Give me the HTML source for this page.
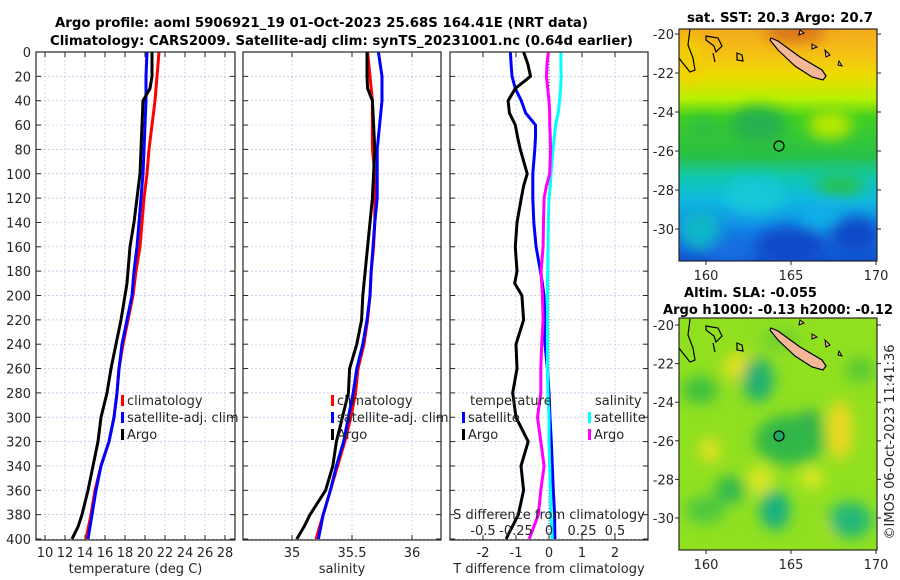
<!DOCTYPE html>
<html><head><meta charset="utf-8"><style>
html,body{margin:0;padding:0;background:#fff}
svg{display:block;font-family:"DejaVu Sans","Liberation Sans",sans-serif}
</style></head><body>
<svg id="fig" width="900" height="580" viewBox="0 0 900 580" xmlns="http://www.w3.org/2000/svg">
<defs>
<linearGradient id="sstg" x1="0" y1="0" x2="0" y2="1">
<stop offset="0" stop-color="#f2a81c"/><stop offset="0.12" stop-color="#f5c414"/><stop offset="0.2" stop-color="#ecdc00"/>
<stop offset="0.3" stop-color="#b8f000"/><stop offset="0.38" stop-color="#40d020"/><stop offset="0.55" stop-color="#28c048"/>
<stop offset="0.64" stop-color="#10c8b0"/><stop offset="0.74" stop-color="#10b8e0"/><stop offset="0.86" stop-color="#1488e8"/><stop offset="1" stop-color="#1250d0"/>
</linearGradient>
<filter id="bl" x="-50%" y="-50%" width="200%" height="200%"><feGaussianBlur stdDeviation="7"/></filter>
<clipPath id="c1"><rect x="679" y="29" width="198" height="232"/></clipPath>
<clipPath id="c2"><rect x="679" y="318" width="198" height="232"/></clipPath>
</defs>
<g id="titles" font-weight="bold" font-size="13" fill="#000">
<text x="55" y="27" textLength="533" lengthAdjust="spacingAndGlyphs">Argo profile: aoml 5906921_19 01-Oct-2023 25.68S 164.41E (NRT data)</text>
<text x="50" y="45" textLength="583" lengthAdjust="spacingAndGlyphs">Climatology: CARS2009. Satellite-adj clim: synTS_20231001.nc (0.64d earlier)</text>
<text x="687" y="22" textLength="186" lengthAdjust="spacingAndGlyphs">sat. SST: 20.3 Argo: 20.7</text>
<text x="684" y="297" textLength="133" lengthAdjust="spacingAndGlyphs">Altim. SLA: -0.055</text>
<text x="663" y="314" textLength="230" lengthAdjust="spacingAndGlyphs">Argo h1000: -0.13 h2000: -0.12</text>
</g>
<text transform="translate(894,442) rotate(-90)" font-size="13" fill="#262626" text-anchor="middle">©IMOS 06-Oct-2023 11:41:36</text>
<g id="panels"></g>
<g id="maps"></g>
</svg>
<script>
// ---------- data ----------
const depths=[0,20,40,60,80,100,120,140,160,180,200,220,240,260,280,300,320,340,360,380,400];
const tempClim=[21.4,21.2,21.0,20.7,20.4,20.2,19.9,19.7,19.5,19.1,18.8,18.3,17.8,17.4,17.2,16.9,16.4,15.6,15.0,14.6,14.1];
const tempSat=[20.2,20.1,20.1,20.0,19.9,19.8,19.6,19.4,19.2,18.9,18.7,18.2,17.7,17.4,17.2,16.9,16.4,15.6,15.1,14.7,14.3];
const argoDepths=[0,10,20,30,40,50,60,80,100,110,120,140,160,180,190,200,220,240,260,280,300,320,340,360,380,390,400];
const tempArgo=[20.7,20.7,20.7,20.5,19.8,19.75,19.7,19.6,19.5,19.35,19.2,18.9,18.5,18.3,18.2,18.0,17.6,17.1,16.6,16.2,15.6,15.3,14.8,14.3,13.7,13.3,12.7];
const salClim=[35.63,35.65,35.67,35.67,35.67,35.69,35.69,35.69,35.68,35.66,35.65,35.63,35.60,35.55,35.53,35.49,35.44,35.38,35.32,35.26,35.20];
const salSat=[35.72,35.75,35.75,35.73,35.71,35.71,35.71,35.69,35.675,35.66,35.65,35.625,35.59,35.54,35.51,35.47,35.43,35.37,35.32,35.26,35.22];
const salArgo=[35.625,35.625,35.625,35.63,35.67,35.675,35.68,35.69,35.68,35.675,35.67,35.65,35.63,35.61,35.60,35.59,35.58,35.54,35.48,35.47,35.42,35.37,35.34,35.28,35.15,35.10,35.04];
const diffDepths=[0,10,20,30,40,50,60,70,80,100,110,120,140,160,180,190,200,220,240,260,280,300,320,340,360,380,400];
const tDiffSat=[-1.17,-1.15,-1.12,-1.02,-0.84,-0.71,-0.41,-0.41,-0.43,-0.49,-0.49,-0.49,-0.46,-0.39,-0.26,-0.2,-0.15,-0.12,-0.12,-0.05,0.0,0.03,0.07,0.1,0.13,0.17,0.18];
const tDiffArgo=[-0.77,-0.64,-0.56,-1.02,-1.24,-1.2,-1.02,-0.95,-0.87,-0.66,-0.77,-0.84,-0.97,-1.02,-0.97,-1.04,-0.82,-0.77,-1.0,-0.97,-1.1,-1.0,-0.63,-0.85,-0.77,-0.93,-1.3];
const sDiffSat=[0.09,0.09,0.092,0.088,0.08,0.07,0.05,0.04,0.03,0.015,0.01,0.0,-0.005,-0.007,-0.01,-0.012,-0.012,-0.012,-0.012,-0.012,-0.008,0.0,0.0,0.005,0.01,0.015,0.025];
const sDiffArgo=[-0.005,-0.015,-0.02,-0.01,0.0,0.005,0.005,0.01,0.012,0.005,-0.02,-0.037,-0.042,-0.045,-0.06,-0.055,-0.05,-0.045,-0.055,-0.062,-0.062,-0.087,-0.062,-0.037,-0.062,-0.08,-0.15];
const depthTicks=[0,20,40,60,80,100,120,140,160,180,200,220,240,260,280,300,320,340,360,380,400];
const tempTicks=[10,12,14,16,18,20,22,24,26,28];
const salTicks=[35,35.5,36];
const tDiffTicks=[-2,-1,0,1,2];
const sDiffTickLabels=["-0.5","-0.25","0","0.25","0.5"];
const sDiffTicks=[-0.5,-0.25,0,0.25,0.5];
const latTicks=[-20,-22,-24,-26,-28,-30];
const lonTicks=[160,165,170];

// ---------- scales ----------
const NS="http://www.w3.org/2000/svg";
const yD=d=>52+d*1.2175;
const xT=t=>45+(t-10)*10;
const xS=s=>292+(s-35)*120;
const xTD=t=>549+t*33;
const xSD=s=>549+s*4*33;
function mk(tag,attrs,parent,text){const e=document.createElementNS(NS,tag);for(const k in attrs)e.setAttribute(k,attrs[k]);if(text!==undefined)e.textContent=text;parent.appendChild(e);return e;}
const P=document.getElementById('panels');

function panel(name,x0,x1,xticks,xfun,xlabels,xtitle,showY){
  const g=mk('g',{},P);
  
  
  mk('rect',{x:x0,y:52,width:x1-x0,height:488,fill:'#fff'},g);
  depthTicks.forEach(d=>{const l=mk('line',{x1:x0,x2:x1,y1:yD(d),y2:yD(d),stroke:'#b8c4ec','stroke-width':0.7,'stroke-dasharray':'2,2'},g);
    mk('line',{x1:x0,x2:x0+5,y1:yD(d),y2:yD(d),stroke:'#262626'},g);mk('line',{x1:x1-5,x2:x1,y1:yD(d),y2:yD(d),stroke:'#262626'},g);
    if(showY){const t=mk('text',{x:x0-5,y:yD(d)+5,'font-size':13,fill:'#262626','text-anchor':'end'},g,String(d));}
  });
  xticks.forEach((v,i)=>{const xx=xfun(v);const l=mk('line',{x1:xx,x2:xx,y1:52,y2:540,stroke:'#b8c4ec','stroke-width':0.7,'stroke-dasharray':'2,2'},g);
    mk('line',{x1:xx,x2:xx,y1:540,y2:535,stroke:'#262626'},g);mk('line',{x1:xx,x2:xx,y1:52,y2:57,stroke:'#262626'},g);
    const t=mk('text',{x:xx,y:557,'font-size':13,fill:'#262626','text-anchor':'middle'},g,xlabels[i]);});
  const tt=mk('text',{x:(x0+x1)/2,y:573,'font-size':13,fill:'#262626','text-anchor':'middle'},g,xtitle);
  
  return g;
}
function line(g,xs,ds,xf,color,name,w){
  const pts=xs.map((v,i)=>xf(v).toFixed(1)+','+yD(ds[i]).toFixed(1)).join(' ');
  const p=mk('polyline',{points:pts,fill:'none',stroke:color,'stroke-width':w||3,'stroke-linejoin':'round'},g);
  
  
}
function frame(g,x0,x1){mk('rect',{x:x0,y:52,width:x1-x0,height:488,fill:'none',stroke:'#262626','stroke-width':1.2},g);}
function legend(g,x,y,color,label,name){
  mk('rect',{x:x,y:y-10,width:3,height:11,fill:color},g);
  const t=mk('text',{x:x+6,y:y,'font-size':13,fill:'#262626'},g,label);
  
  
}

// temperature panel
const g1=panel('temperature-panel',36,235,tempTicks,xT,tempTicks.map(String),'temperature (deg C)',true);
line(g1,tempClim,depths,xT,'#ff0000','temp-climatology-line');
line(g1,tempSat,depths,xT,'#0000ff','temp-satellite-line');
line(g1,tempArgo,argoDepths,xT,'#000000','temp-argo-line');
legend(g1,121,405,'#ff0000','climatology','legend-climatology');
legend(g1,121,422,'#0000ff','satellite-adj. clim','legend-satellite');
legend(g1,121,439,'#000000','Argo','legend-argo');
frame(g1,36,235);

// salinity panel
const g2=panel('salinity-panel',243,441,salTicks,xS,["35","35.5","36"],'salinity',false);
line(g2,salClim,depths,xS,'#ff0000','sal-climatology-line');
line(g2,salSat,depths,xS,'#0000ff','sal-satellite-line');
line(g2,salArgo,argoDepths,xS,'#000000','sal-argo-line');
legend(g2,331,405,'#ff0000','climatology','legend-climatology');
legend(g2,331,422,'#0000ff','satellite-adj. clim','legend-satellite');
legend(g2,331,439,'#000000','Argo','legend-argo');
frame(g2,243,441);

// difference panel
const g3=panel('difference-panel',450,648,tDiffTicks,xTD,tDiffTicks.map(String),'T difference from climatology',false);
mk('line',{x1:xTD(0),x2:xTD(0),y1:52,y2:540,stroke:'#555','stroke-width':1,'stroke-dasharray':'1,2'},g3);
line(g3,tDiffSat,diffDepths,xTD,'#0000ff','tdiff-satellite-line');
line(g3,tDiffArgo,diffDepths,xTD,'#000000','tdiff-argo-line');
line(g3,sDiffSat,diffDepths,xSD,'#00ffff','sdiff-satellite-line');
line(g3,sDiffArgo,diffDepths,xSD,'#ff00ff','sdiff-argo-line');
let tl=mk('text',{x:470,y:405,'font-size':13,fill:'#262626'},g3,'temperature');
legend(g3,462,422,'#0000ff','satellite','legend-t-satellite');
legend(g3,462,439,'#000000','Argo','legend-t-argo');
tl=mk('text',{x:595,y:405,'font-size':13,fill:'#262626'},g3,'salinity');
legend(g3,588,422,'#00ffff','satellite','legend-s-satellite');
legend(g3,588,439,'#ff00ff','Argo','legend-s-argo');
tl=mk('text',{x:549,y:519,'font-size':13,fill:'#262626','text-anchor':'middle'},g3,'S difference from climatology');
sDiffTicks.forEach((v,i)=>{const t=mk('text',{x:xSD(v),y:535,'font-size':13,fill:'#262626','text-anchor':'middle'},g3,sDiffTickLabels[i]);});
frame(g3,450,648);

// ---------- maps ----------
const M=document.getElementById('maps');
const lonX=l=>706+(l-160)*17;
function mapFrame(g,top,latY){
  mk('rect',{x:679,y:top,width:198,height:232,fill:'none',stroke:'#262626','stroke-width':1.2},g);
  latTicks.forEach(l=>{const y=latY(l);mk('line',{x1:679,x2:675,y1:y,y2:y,stroke:'#262626'},g);mk('line',{x1:877,x2:881,y1:y,y2:y,stroke:'#262626'},g);
    const t=mk('text',{x:674,y:y+5,'font-size':13,fill:'#262626','text-anchor':'end'},g,String(l));});
  lonTicks.forEach(l=>{const x=lonX(l);mk('line',{x1:x,x2:x,y1:top+232,y2:top+236,stroke:'#262626'},g);
    const t=mk('text',{x:x,y:top+251,'font-size':13,fill:'#262626','text-anchor':'middle'},g,String(l));});
}
function land(g,dy){
  mk('path',{d:`M771,${38+dy} L778,${41+dy} L800,${57+dy} L822,${70+dy} L826,${76+dy} L823,${80+dy} L812,${77+dy} L795,${66+dy} L778,${50+dy} L770,${40+dy} Z`,fill:'#f4b896',stroke:'#000','stroke-width':1.2},g);
  mk('path',{d:`M690,${29+dy} L688,${45+dy} L693,${58+dy} L695,${70+dy} L690,${72+dy} L682,${62+dy} L679,${58+dy}`,fill:'none',stroke:'#000','stroke-width':1.2},g);
  mk('path',{d:`M706,${36+dy} L718,${38+dy} L722,${46+dy} L716,${52+dy} L714,${46+dy} L706,${40+dy} Z`,fill:'none',stroke:'#000','stroke-width':1.2},g);
  mk('path',{d:`M737,${53+dy} L742,${55+dy} L743,${61+dy} L737,${60+dy} Z`,fill:'none',stroke:'#000','stroke-width':1.2},g);
  mk('path',{d:`M713,${53+dy} L715,${62+dy}`,fill:'none',stroke:'#000','stroke-width':1.2},g);
  mk('path',{d:`M800,${30+dy} L804,${33+dy} L799,${35+dy}Z M812,${44+dy} L817,${47+dy} L812,${49+dy}Z M825,${50+dy} L830,${55+dy} L826,${57+dy}Z M839,${61+dy} L842,${66+dy} L838,${65+dy}Z`,fill:'#f4b896',stroke:'#000','stroke-width':1},g);
}
// SST map
const m1=mk('g',{},M);


const mc1=mk('g',{'clip-path':'url(#c1)'},m1);
mk('rect',{x:679,y:29,width:198,height:232,fill:'url(#sstg)'},mc1);
const bl1=mk('g',{filter:'url(#bl)'},mc1);
[[795,32,30,10,'#d8701c'],[690,60,12,25,'#f0d000'],[758,125,28,18,'#28b050'],[830,125,22,14,'#b8e800'],[705,130,20,14,'#30c040'],[755,195,30,18,'#18c8d8'],[840,185,25,10,'#28c050'],[790,245,35,18,'#1048c8'],[855,235,25,18,'#1048c8'],[700,230,20,20,'#10b8c8'],[730,250,25,12,'#1470e0'],[820,215,20,12,'#10b0e8']].forEach(b=>mk('ellipse',{cx:b[0],cy:b[1],rx:b[2],ry:b[3],fill:b[4]},bl1));
land(mc1,0);
mk('circle',{cx:779,cy:146,r:5,fill:'none',stroke:'#000','stroke-width':1.2},mc1);
mapFrame(m1,29,l=>34+(-20-l)*19.5);
// SLA map
const m2=mk('g',{},M);


const mc2=mk('g',{'clip-path':'url(#c2)'},m2);
mk('rect',{x:679,y:318,width:198,height:232,fill:'#90e020'},mc2);
const bl2=mk('g',{filter:'url(#bl)'},mc2);
[[740,367,16,14,'#e8e020'],[840,430,12,30,'#f0d820'],[710,450,10,12,'#e8e020'],[760,480,12,14,'#e0e820'],[812,478,12,10,'#e0e820'],[833,525,8,10,'#d8e820'],[758,380,16,22,'#20b070'],[790,440,35,25,'#30b848'],[775,510,15,20,'#18b080'],[850,520,22,18,'#20b878'],[700,390,18,14,'#40c040'],[730,490,15,14,'#30b850'],[810,420,12,10,'#30b050'],[705,510,20,14,'#50c840'],[860,370,15,12,'#58c830'],[780,340,20,10,'#70d030']].forEach(b=>mk('ellipse',{cx:b[0],cy:b[1],rx:b[2],ry:b[3],fill:b[4]},bl2));
land(mc2,290);
mk('circle',{cx:779,cy:436,r:5,fill:'#20a860',stroke:'#000','stroke-width':1.2},mc2);
mapFrame(m2,318,l=>325+(-20-l)*19.3);
</script>
</body></html>
